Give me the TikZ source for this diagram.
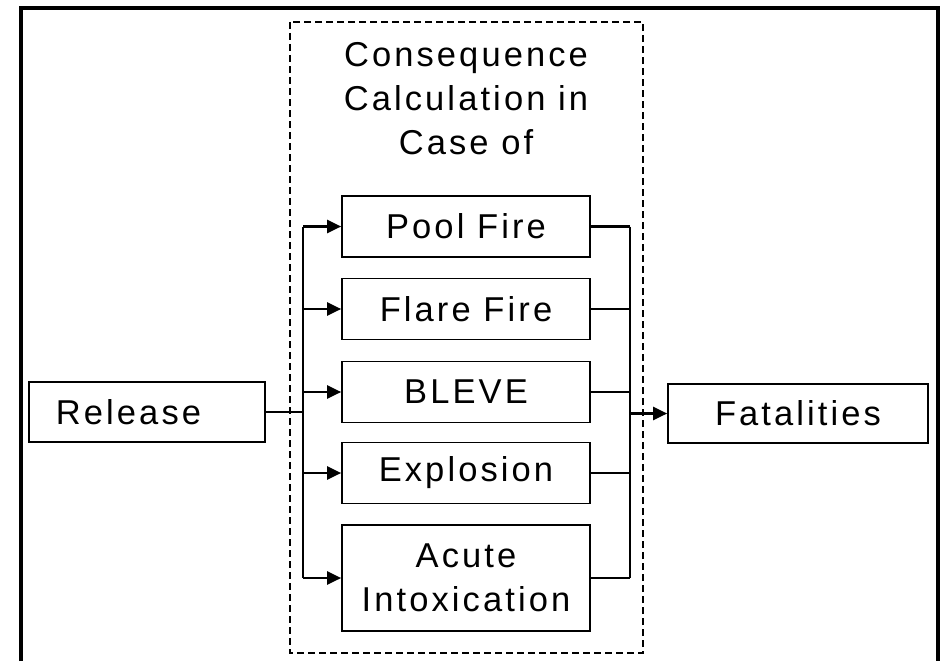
\documentclass[tikz,border=0pt]{standalone}
\usepackage{fontspec}
\setmainfont{Liberation Sans}[LetterSpace=9]
\usetikzlibrary{arrows.meta}
\tikzset{
  txt/.style={font=\fontsize{34.5}{44}\selectfont, align=center, inner sep=0pt},
  stepbox/.style={txt, draw, line width=1.7pt, minimum width=248pt, minimum height=61pt},
  link/.style={line width=2.2pt},
  arr/.style={link, -{Triangle[length=14pt,width=13pt]}},
}
\begin{document}
\begin{tikzpicture}[x=1pt,y=-1pt]
\useasboundingbox (0,0) rectangle (941,661);
% outer frame, open at the bottom
\draw[line width=4pt] (21,661) -- (21,8.5) -- (938,8.5) -- (938,661);
% dashed group around the consequence models
\draw[line width=1.6pt, dash pattern=on 7pt off 4pt] (290,22) rectangle (643,653);
\node[txt] (title) at (466,99) {Consequence\\Calculation in\\Case of};

% consequence models
\node[stepbox] (pool)  at (466,226.5) {Pool Fire};
\node[stepbox] (flare) at (466,309)   {Flare Fire};
\node[stepbox] (bleve) at (466,392)   {BLEVE};
\node[stepbox] (expl)  at (466,473)   {Explosion};
\node[stepbox, minimum height=106pt] (acute) at (466,578) {Acute\\Intoxication};

% input and output
\node[txt, draw, line width=1.7pt, minimum width=236pt, minimum height=60pt] (rel) at (147,412) {Release\hspace{37pt}};
\node[txt, draw, line width=1.7pt, minimum width=260pt, minimum height=59pt] (fat) at (798,413.5) {Fatalities};

% distribution and collection buses
\coordinate (lbus) at (303,0);
\coordinate (rbus) at (630,0);
\draw[link] (rel.east) -- (lbus |- rel.east);
\draw[link] (lbus |- pool.west) -- (lbus |- acute.west);
\draw[link] (rbus |- pool.east) -- (rbus |- acute.east);
\foreach \b in {pool,flare,bleve,expl,acute}{
  \draw[arr] (lbus |- \b.west) -- (\b.west);
  \draw[link] (\b.east) -- (rbus |- \b.east);
}
\draw[arr] (rbus |- fat.west) -- (fat.west);
\end{tikzpicture}
\end{document}
